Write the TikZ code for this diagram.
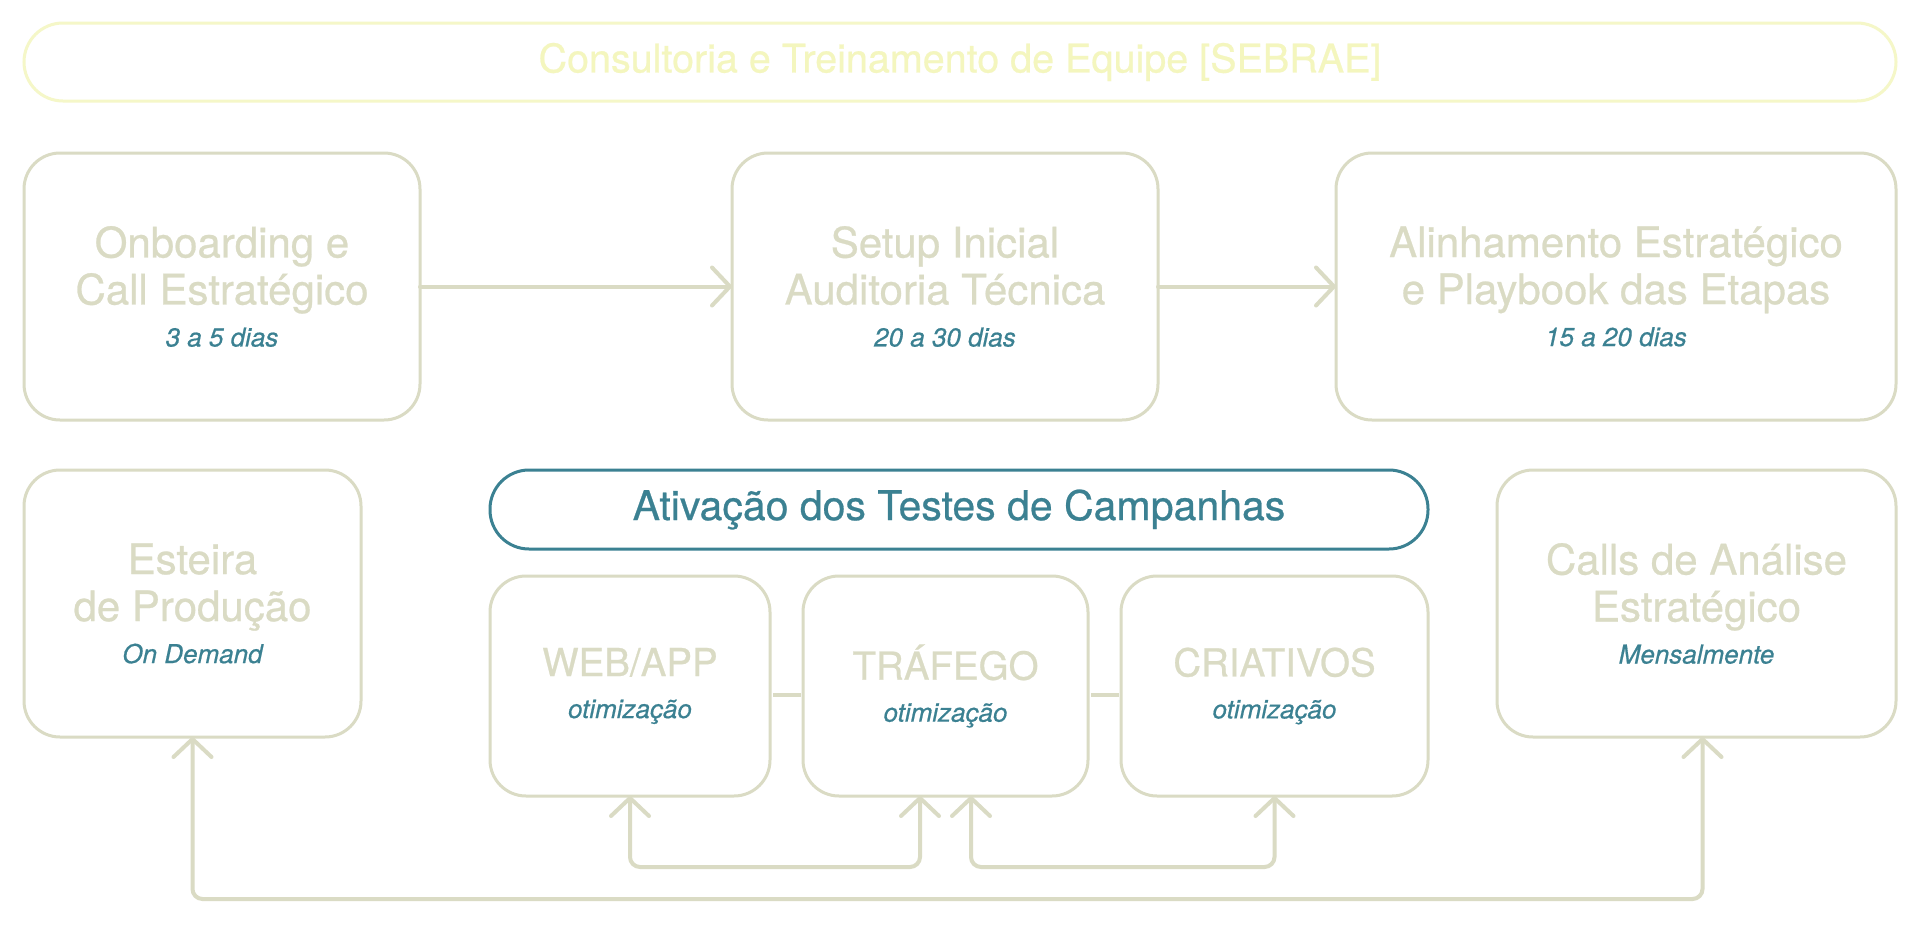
\documentclass[tikz,border=0pt]{standalone}
\usepackage{fontspec}
\setmainfont{TeX Gyre Heros}[FakeBold=0.6]
\usetikzlibrary{arrows.meta}
\definecolor{cOlive}{HTML}{DADBC4}
\definecolor{cTeal}{HTML}{3B8192}
\definecolor{cYellow}{HTML}{F4F6BE}
\definecolor{cYellowLine}{HTML}{F5F7C8}
\newcommand\subt[1]{{\fontsize{26}{26}\selectfont\itshape\color{cTeal}#1}}
\tikzset{
  box/.style={draw=cOlive, line width=3pt, rounded corners=36pt, inner sep=0pt, outer sep=0pt,
    align=center, text=cOlive, font=\fontsize{42}{47}\selectfont},
  capsbox/.style={box, font=\fontsize{38.5}{47}\selectfont},
  pill/.style={line width=3pt, rounded corners=39pt, inner sep=0pt, outer sep=0pt, align=center},
  conn/.style={draw=cOlive, line width=4pt, line cap=round, rounded corners=10pt,
    arrows={-{Straight Barb[length=18pt,width=38pt,round]}}},
  biconn/.style={conn, arrows={{Straight Barb[length=18pt,width=38pt,round]}-{Straight Barb[length=18pt,width=38pt,round]}}},
  link/.style={draw=cOlive, line width=4pt},
}
\begin{document}
\begin{tikzpicture}[x=1pt,y=-1pt]
\fill[white] (0,0) rectangle (1920,937);
\useasboundingbox (0,0) rectangle (1920,937);

\node[pill, draw=cYellowLine, text=cYellow, font=\fontsize{39.5}{47}\selectfont,
  minimum width=1872pt, minimum height=78pt] (banner) at (960,62) {Consultoria e Treinamento de Equipe [SEBRAE]};

\node[box, minimum width=396pt, minimum height=267pt] (b1) at (222,286.5)
  {Onboarding e\\Call Estratégico\\[-5pt]\subt{3 a 5 dias}};
\node[box, minimum width=426pt, minimum height=267pt] (b2) at (945,286.5)
  {Setup Inicial\\Auditoria Técnica\\[-5pt]\subt{20 a 30 dias}};
\node[box, minimum width=560pt, minimum height=267pt] (b3) at (1616,286.5)
  {Alinhamento Estratégico\\e Playbook das Etapas\\[-5pt]\subt{15 a 20 dias}};

\node[box, minimum width=337pt, minimum height=267pt] (est) at (192.5,603.5)
  {Esteira\\de Produção\\[-5pt]\subt{On Demand}};
\node[pill, draw=cTeal, text=cTeal, font=\fontsize{41}{47}\selectfont,
  minimum width=938pt, minimum height=79pt] (ativ) at (959,509.5) {Ativação dos Testes de Campanhas};
\node[capsbox, minimum width=280pt, minimum height=220pt] (web) at (630,686)
  {WEB/APP\\[-5pt]\subt{otimização}};
\node[capsbox, minimum width=285pt, minimum height=220pt] (traf) at (945.5,686)
  {TRÁFEGO\\[-5pt]\subt{otimização}};
\node[capsbox, minimum width=307pt, minimum height=220pt] (cria) at (1274.5,686)
  {CRIATIVOS\\[-5pt]\subt{otimização}};
\node[box, minimum width=399pt, minimum height=267pt] (calls) at (1696.5,603.5)
  {Calls de Análise\\Estratégico\\[-5pt]\subt{Mensalmente}};

\draw[conn] (b1.east) -- (b2.west);
\draw[conn] (b2.east) -- (b3.west);

\draw[link, shorten <=3pt, shorten >=2pt] ([yshift=-9pt]web.east) -- ([yshift=-9pt]traf.west);
\draw[link, shorten <=3pt, shorten >=2pt] ([yshift=-9pt]traf.east) -- ([yshift=-9pt]cria.west);

\draw[biconn] (web.south) -- ++(0,71) -| ([xshift=-25.5pt]traf.south);
\draw[biconn] ([xshift=25.5pt]traf.south) -- ++(0,71) -| (cria.south);
\draw[biconn] (est.south) -- ++(0,162) -| ([xshift=6pt]calls.south);
\end{tikzpicture}
\end{document}
